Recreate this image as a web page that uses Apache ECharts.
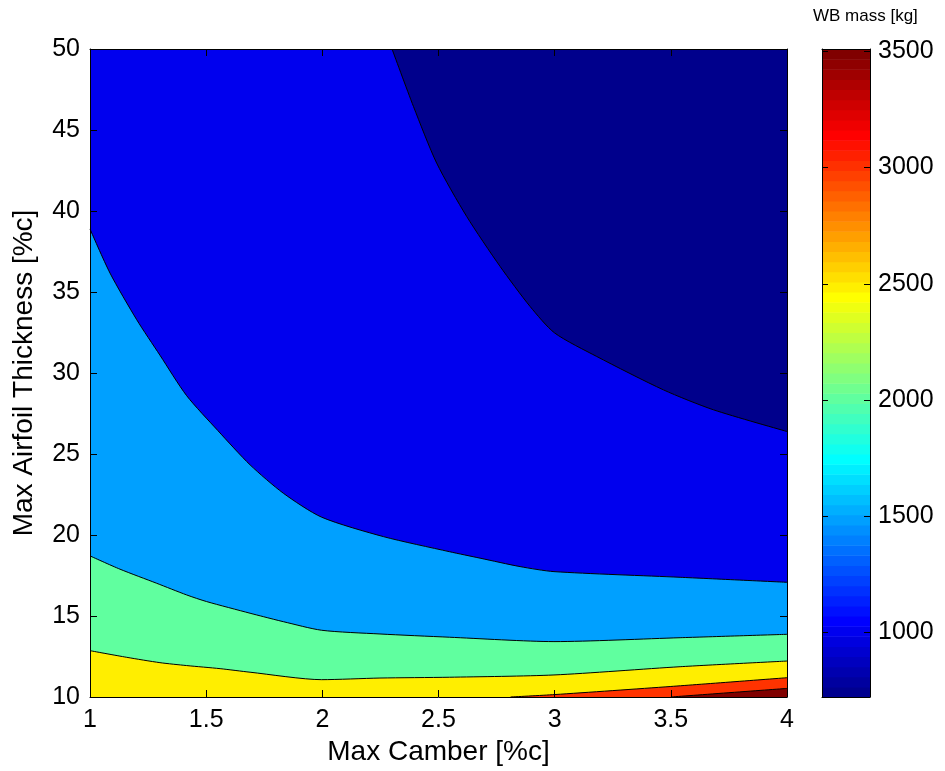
<!DOCTYPE html>
<html>
<head>
<meta charset="utf-8">
<script src="https://cdn.jsdelivr.net/npm/echarts@6/dist/echarts.min.js"></script>
<style>
html,body{margin:0;padding:0;background:#fff;}
#chart{width:945px;height:771px;}
</style>
</head>
<body>
<div id="chart"></div>
<script>
// ---------- data ----------
// Contour boundaries [Max Camber %c, Max Airfoil Thickness %c]
const LEVEL_1000 = [[2.30,50],[2.392,46.46],[2.492,42.96],[2.621,39.67],[2.765,36.58],[2.894,34.11],[3.0,32.47],[3.181,31.02],[3.468,28.96],[3.683,27.73],[4.0,26.39]];
const LEVEL_1500 = [[1,38.89],[1.086,36.17],[1.201,33.29],[1.301,31.1],[1.416,28.6],[1.55,26.45],[1.689,24.33],[1.832,22.58],[1.997,21.10],[2.263,19.90],[2.547,18.97],[2.679,18.57],[2.851,18.05],[2.997,17.74],[3.54,17.39],[4.0,17.08]];
const LEVEL_2000 = [[1,18.71],[1.129,17.89],[1.287,17.02],[1.416,16.30],[1.502,15.89],[1.689,15.17],[1.746,14.96],[1.832,14.65],[1.997,14.12],[2.248,13.89],[2.547,13.69],[2.997,13.42],[3.54,13.66],[4.0,13.87]];
const LEVEL_2500 = [[1,12.86],[1.158,12.45],[1.301,12.12],[1.416,11.94],[1.56,11.75],[1.689,11.53],[1.997,11.07],[2.248,11.17],[2.547,11.22],[2.997,11.36],[3.54,11.87],[4.0,12.22]];
const LEVEL_3000 = [[2.81,10],[3.0,10.15],[3.5,10.65],[4.0,11.19]];
const LEVEL_3500 = [[3.5,10],[4.0,10.53]];

const COLOR_BELOW_1000 = '#00008C';
const COLOR_1000 = '#0000EE';
const UPPER_BANDS = [LEVEL_1500, LEVEL_2000, LEVEL_2500, LEVEL_3000, LEVEL_3500];
const UPPER_COLORS = ['#00A0FF', '#60FF9F', '#FFEE00', '#FF3300', '#800000'];

const CB_MIN = 723, CB_MAX = 3510;
const CB_TICKS = [1000, 1500, 2000, 2500, 3000, 3500];

// MATLAB jet(64) colormap (style)
function jet64() {
  const n = 16, u = [];
  for (let k = 1; k <= n; k++) u.push(k / n);
  for (let k = 0; k < n - 1; k++) u.push(1);
  for (let k = n; k >= 1; k--) u.push(k / n);
  const out = [];
  for (let i = 1; i <= 64; i++) {
    const r = (i >= 25) ? u[i - 25] : 0;
    const g = (i >= 9 && i <= 55) ? u[i - 9] : 0;
    const b = (i <= 39) ? u[i + 7] : 0;
    const h = v => Math.round(v * 255).toString(16).padStart(2, '0');
    out.push('#' + h(r) + h(g) + h(b));
  }
  return out;
}
const JET = jet64();

const chart = echarts.init(document.getElementById('chart'), null, {renderer: 'canvas'});
const FONT = 'Liberation Sans, Arial, Helvetica, sans-serif';

const lineBase = {
  type: 'line', xAxisIndex: 0, yAxisIndex: 0, symbol: 'none',
  smooth: 0.25, silent: true,
  lineStyle: {color: '#000', width: 1}, z: 2
};

const contourSeries = [
  Object.assign({}, lineBase, {
    data: LEVEL_1000,
    areaStyle: {color: COLOR_BELOW_1000, opacity: 1, origin: 'end'}
  })
].concat(UPPER_BANDS.map((pts, i) => Object.assign({}, lineBase, {
  data: pts,
  areaStyle: {color: UPPER_COLORS[i], opacity: 1, origin: 'start'}
})));

const step = (CB_MAX - CB_MIN) / JET.length;
const cbSeries = {
  type: 'custom',
  xAxisIndex: 2, yAxisIndex: 2,
  silent: true,
  clip: true,
  data: JET.map((c, i) => [i, CB_MIN + i * step]),
  renderItem: function (params, api) {
    const i = api.value(0);
    const lo = CB_MIN + i * step, hi = lo + step;
    const p0 = api.coord([0, lo]);
    const p1 = api.coord([1, hi]);
    return {
      type: 'rect',
      shape: {x: p0[0], y: p1[1], width: p1[0] - p0[0], height: p0[1] - p1[1] + 0.6},
      style: {fill: JET[i]}
    };
  },
  z: 2
};

const axisCommon = {
  axisLine: {show: true, onZero: false, lineStyle: {color: '#000', width: 1}},
  splitLine: {show: false},
  z: 10
};
const plain = v => String(v);

chart.setOption({
  animation: false,
  backgroundColor: '#fff',
  textStyle: {fontFamily: FONT},
  grid: [
    {left: 90, top: 49, width: 697, height: 648, show: true, backgroundColor: COLOR_1000, borderWidth: 0},
    {left: 822, top: 49, width: 48, height: 648, show: false}
  ],
  xAxis: [
    Object.assign({}, axisCommon, {
      type: 'value', gridIndex: 0, position: 'bottom', min: 1, max: 4, interval: 0.5,
      axisTick: {inside: true, length: 7, lineStyle: {color: '#000'}},
      axisLabel: {fontSize: 25, color: '#000', margin: 11, fontFamily: FONT, formatter: plain},
      name: 'Max Camber [%c]', nameLocation: 'middle', nameGap: 35,
      nameTextStyle: {fontSize: 28, color: '#000', fontFamily: FONT}
    }),
    Object.assign({}, axisCommon, {
      type: 'value', gridIndex: 0, position: 'top', min: 1, max: 4, interval: 0.5,
      axisTick: {inside: true, length: 7, lineStyle: {color: '#000'}},
      axisLabel: {show: false}
    }),
    Object.assign({}, axisCommon, {
      type: 'value', gridIndex: 1, position: 'bottom', min: 0, max: 1,
      axisTick: {show: false}, axisLabel: {show: false}
    }),
    Object.assign({}, axisCommon, {
      type: 'value', gridIndex: 1, position: 'top', min: 0, max: 1,
      axisTick: {show: false}, axisLabel: {show: false}
    })
  ],
  yAxis: [
    Object.assign({}, axisCommon, {
      type: 'value', gridIndex: 0, position: 'left', min: 10, max: 50, interval: 5,
      axisTick: {inside: true, length: 7, lineStyle: {color: '#000'}},
      axisLabel: {fontSize: 25, color: '#000', margin: 10, fontFamily: FONT, formatter: plain},
      name: 'Max Airfoil Thickness [%c]', nameLocation: 'middle', nameGap: 52,
      nameTextStyle: {fontSize: 28, color: '#000', fontFamily: FONT}
    }),
    Object.assign({}, axisCommon, {
      type: 'value', gridIndex: 0, position: 'right', min: 10, max: 50, interval: 5,
      axisTick: {inside: true, length: 7, lineStyle: {color: '#000'}},
      axisLabel: {show: false}
    }),
    Object.assign({}, axisCommon, {
      type: 'value', gridIndex: 1, position: 'right', min: CB_MIN, max: CB_MAX,
      axisTick: {inside: true, length: 6, customValues: CB_TICKS, lineStyle: {color: '#000'}},
      axisLabel: {fontSize: 25, color: '#000', margin: 8, customValues: CB_TICKS, fontFamily: FONT, formatter: plain}
    }),
    Object.assign({}, axisCommon, {
      type: 'value', gridIndex: 1, position: 'left', min: CB_MIN, max: CB_MAX,
      axisTick: {inside: true, length: 6, customValues: CB_TICKS, lineStyle: {color: '#000'}},
      axisLabel: {show: false}
    })
  ],
  graphic: [
    {type: 'text', left: 813, top: 8, z: 100,
     style: {text: 'WB mass [kg]', fontSize: 17, fill: '#000', fontFamily: FONT}}
  ],
  series: contourSeries.concat([cbSeries])
});
</script>
</body>
</html>
